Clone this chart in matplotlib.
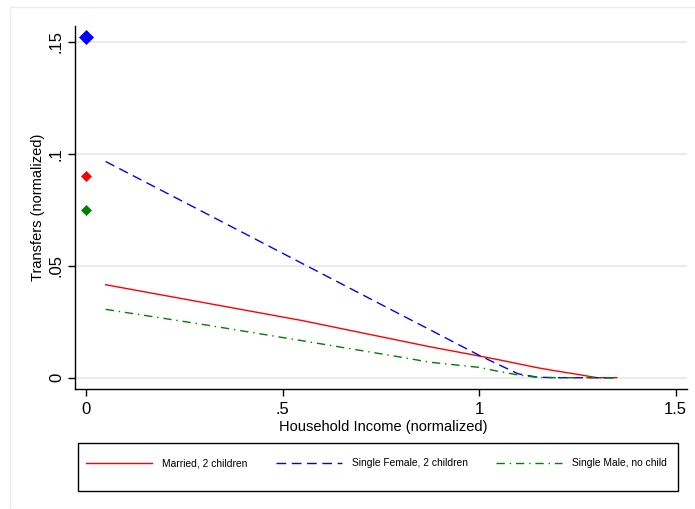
import matplotlib
matplotlib.use("Agg")
import matplotlib.pyplot as plt
from matplotlib.lines import Line2D
from matplotlib.patches import Rectangle

plt.rcParams['font.family'] = ['Liberation Sans', 'DejaVu Sans']

# ---- data ----
income = [0.05, 0.3, 0.55, 0.8, 0.875, 1.0, 1.05, 1.1, 1.15, 1.2, 1.25, 1.3, 1.35]
married_2ch = [0.0415, 0.0335, 0.0255, 0.0165, 0.0138, 0.0097, 0.0080, 0.0062, 0.0044, 0.0029, 0.0015, 0.0, 0.0]
single_f_2ch = [0.0965, 0.0738, 0.0510, 0.0282, 0.0214, 0.0100, 0.0058, 0.0017, 0.0002, 0.0, 0.0, 0.0, 0.0]
single_m_0ch = [0.0305, 0.0237, 0.0165, 0.0092, 0.0069, 0.0046, 0.0028, 0.0012, 0.0001, 0.0, 0.0, 0.0, 0.0]

zero_income_x = [0.0, 0.0, 0.0]
zero_income_y = [0.0902, 0.1522, 0.0747]   # married, single female, single male
zero_colors = ['red', 'blue', 'green']
zero_sizes = [5.2, 7.2, 5.2]

series_labels = ["Married, 2 children", "Single Female, 2 children", "Single Male, no child"]
xticks = [0, 0.5, 1, 1.5]
xticklabels = ["0", ".5", "1", "1.5"]
yticks = [0, 0.05, 0.1, 0.15]
yticklabels = ["0", ".05", ".1", ".15"]

W, H = 695, 509
fig = plt.figure(figsize=(W / 100, H / 100), dpi=100)
fig.patch.set_facecolor('white')

# outer graph region frame
fig.patches.append(Rectangle((10 / W, 0), 1.2, 1 - 7 / H, transform=fig.transFigure,
                             fill=False, edgecolor='#ececec', linewidth=1.0))

ax = fig.add_axes([75 / W, 1 - 389 / H, (687 - 75) / W, (389 - 26) / H])
ax.set_xlim(-0.028, 1.529)
ax.set_ylim(-0.00505, 0.1570)

for yv in yticks:
    ax.axhline(yv, color='#e8e8e8', linewidth=1.2, zorder=0)

lw = 1.0
ax.plot(income, married_2ch, color='red', linewidth=lw, zorder=3)
ax.plot(income, single_f_2ch, color='blue', linewidth=lw, dashes=(7, 4), zorder=3)
ax.plot(income, single_m_0ch, color='green', linewidth=lw, dashes=(6, 3.5, 1, 3.5), zorder=3)

for xv, yv, c, s in zip(zero_income_x, zero_income_y, zero_colors, zero_sizes):
    ax.plot([xv], [yv], marker='D', color=c, markersize=s, markeredgewidth=0.5,
            linestyle='none', zorder=4)

for sp in ['top', 'right']:
    ax.spines[sp].set_visible(False)
for sp in ['left', 'bottom']:
    ax.spines[sp].set_linewidth(1.0)
    ax.spines[sp].set_color('black')

ax.set_xticks(xticks)
ax.set_xticklabels(xticklabels)
ax.set_yticks(yticks)
ax.set_yticklabels(yticklabels, rotation=90, va='center')
ax.tick_params(axis='both', direction='out', length=5, width=1.0, labelsize=12, color='black')
ax.tick_params(axis='x', pad=4)
ax.tick_params(axis='y', pad=3)

fig.text(383 / W, 1 - 430.7 / H, "Household Income (normalized)", ha='center', va='baseline',
         fontsize=10.5)
fig.text(38 / W, 1 - 207 / H, "Transfers (normalized)", ha='center', va='center',
         rotation=90, fontsize=10.5)

# legend
handles = [
    Line2D([], [], color='red', linewidth=lw),
    Line2D([], [], color='blue', linewidth=lw, dashes=(7, 4)),
    Line2D([], [], color='green', linewidth=lw, dashes=(6, 3.5, 1, 3.5)),
]
fig.patches.append(Rectangle((78.3 / W, 1 - 491 / H), (678.3 - 78.3) / W, (491 - 443.3) / H,
                             transform=fig.transFigure, fill=False, edgecolor='black',
                             linewidth=1.0))
fig.legend(handles, series_labels, ncol=3, loc='center left',
           bbox_to_anchor=(86 / W, 1 - 463.3 / H), bbox_transform=fig.transFigure,
           frameon=False, borderpad=0, borderaxespad=0, fontsize=7.4,
           handlelength=6.4, handletextpad=0.97, columnspacing=2.8)

fig.savefig("out.png", dpi=100)
